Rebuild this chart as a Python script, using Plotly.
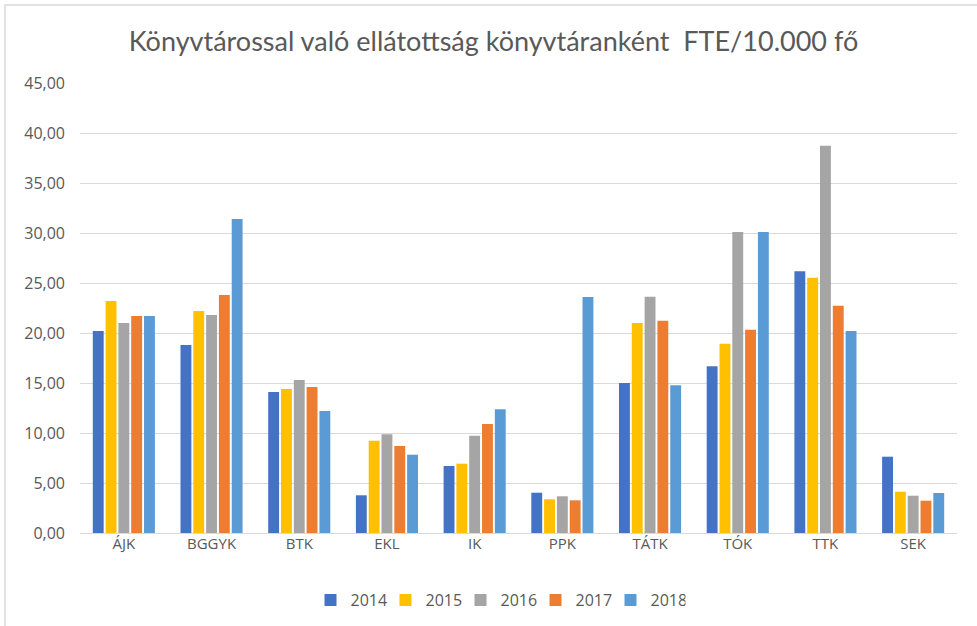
import plotly.graph_objects as go

categories = ["ÁJK", "BGGYK", "BTK", "EKL", "IK", "PPK", "TÁTK", "TÓK", "TTK", "SEK"]
years = ["2014", "2015", "2016", "2017", "2018"]
v2014 = [20.2, 18.8, 14.1, 3.77, 6.7, 4.03, 15.0, 16.67, 26.17, 7.63]
v2015 = [23.2, 22.2, 14.4, 9.23, 6.93, 3.37, 21.0, 18.93, 25.53, 4.13]
v2016 = [21.0, 21.8, 15.3, 9.87, 9.73, 3.67, 23.63, 30.1, 38.73, 3.73]
v2017 = [21.7, 23.8, 14.6, 8.7, 10.9, 3.27, 21.23, 20.33, 22.73, 3.23]
v2018 = [21.7, 31.4, 12.2, 7.83, 12.37, 23.6, 14.77, 30.1, 20.2, 4.0]
series = [v2014, v2015, v2016, v2017, v2018]
colors = ["#4472C4", "#FFC000", "#A5A5A5", "#ED7D31", "#5B9BD5"]
y_ticks = [0, 5, 10, 15, 20, 25, 30, 35, 40, 45]

fig = go.Figure()
for name, vals, col in zip(years, series, colors):
    fig.add_trace(go.Bar(name=name, x=categories, y=vals, marker_color=col,
                         marker_line_width=0))

W, H = 977, 626
L, R, T, B = 80, 20, 83, 93
pw, ph = W - L - R, H - T - B

def px_x(p):
    return (p - L) / pw

def px_y(p):
    return (H - B - p) / ph

fig.update_layout(
    width=W, height=H,
    margin=dict(l=L, r=R, t=T, b=B, autoexpand=False),
    paper_bgcolor="white", plot_bgcolor="white",
    separators=", ",
    barmode="group", bargap=0.27, bargroupgap=0.15,
    title=dict(text="Könyvtárossal való ellátottság könyvtáranként  FTE/10.000 fő",
               x=493.5 / W, xanchor="center", y=1 - 42 / H, yanchor="middle",
               font=dict(family="Lato", size=27, color="#595959")),
    font=dict(family="Open Sans", color="#595959", size=15),
    xaxis=dict(showgrid=False, showline=False, ticks="", automargin=False,
               tickfont=dict(size=15, color="#595959")),
    yaxis=dict(range=[0, 45], tickvals=y_ticks, tickformat=".2f", automargin=False,
               showgrid=True, gridcolor="#D9D9D9", gridwidth=1,
               zeroline=True, zerolinecolor="#D9D9D9", zerolinewidth=1,
               showline=False, ticks="", ticklabelstandoff=14,
               tickfont=dict(size=16, color="#595959")),
    legend=dict(orientation="h", x=px_x(498), xanchor="center",
                y=px_y(600), yanchor="middle",
                font=dict(size=16, color="#595959"),
                entrywidth=30, entrywidthmode="pixels",
                traceorder="normal"),
    shapes=[dict(type="rect", xref="paper", yref="paper",
                 x0=px_x(5), x1=px_x(1100), y0=px_y(5), y1=px_y(800),
                 line=dict(color="#D9D9D9", width=1.5), layer="below")],
)

fig.write_html("out.html", config={"displayModeBar": False},
               post_script="document.body.style.margin='0';document.body.style.overflow='hidden';")
